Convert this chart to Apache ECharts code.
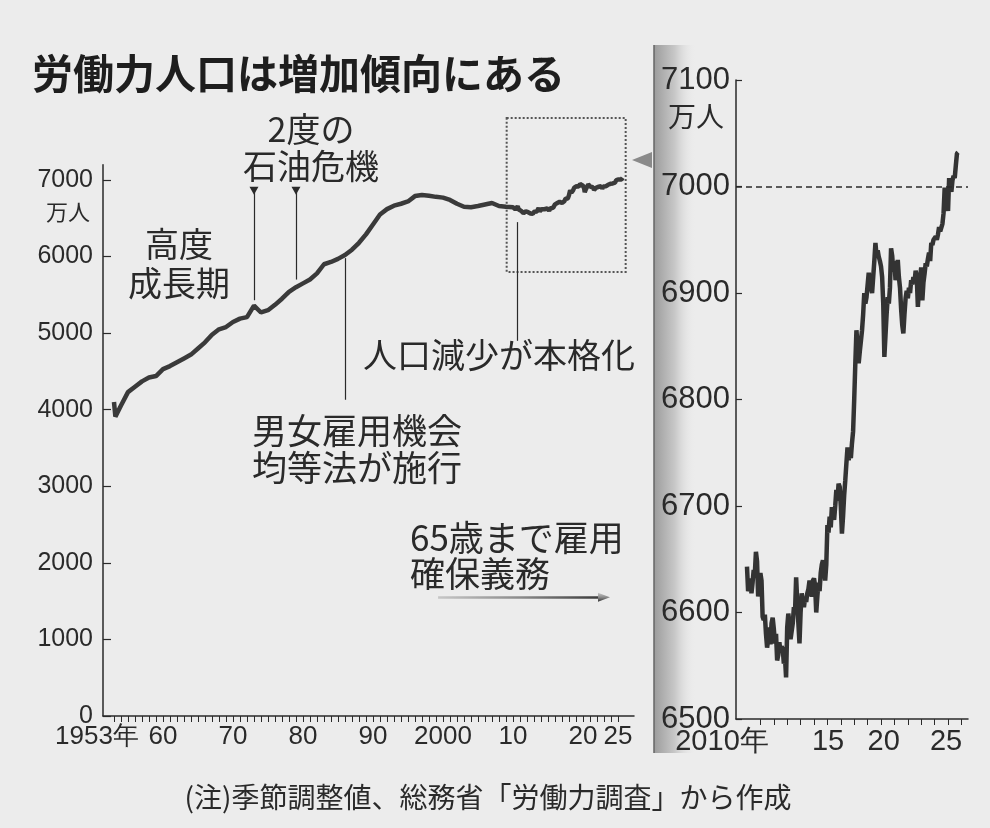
<!DOCTYPE html>
<html><head><meta charset="utf-8">
<script src="https://cdn.jsdelivr.net/npm/echarts@6/dist/echarts.min.js"></script>
<style>html,body{margin:0;padding:0;background:#ececec;}#c{width:990px;height:828px;}</style>
</head><body><div id="c"></div>
<script>
// ---- data (万人) ----
const leftYears = [1953.0,1953.2,1954,1955,1956,1957,1958,1959,1960,1961,1962,1963,1964,1965,1966,1967,1968,1969,1970,1971,1972,1973,1974,1975,1976,1977,1978,1979,1980,1981,1982,1983,1984,1985,1986,1987,1988,1989,1990,1991,1992,1993,1994,1995,1996,1997,1998,1999,2000,2001,2002,2003,2004,2005,2006,2007,2008,2009];
const leftValues = [4100,3910,4055,4230,4300,4370,4420,4440,4530,4570,4620,4670,4720,4800,4880,4980,5050,5080,5146,5190,5210,5360,5270,5300,5370,5450,5540,5600,5650,5700,5780,5900,5930,5970,6020,6090,6180,6290,6420,6550,6620,6665,6690,6720,6790,6805,6795,6780,6770,6740,6690,6650,6645,6660,6680,6700,6660,6650];
const monthlyStartYear = 2010;
const monthlyValues = [
 6643,6620,6625,6632,6618,6628,6640,6636,6657,6648,6615,6628, // 2010
 6637,6630,6596,6593,6598,6580,6567,6575,6586,6570,6590,6595, // 2011
 6585,6571,6580,6555,6560,6572,6563,6568,6566,6552,6558,6539, // 2012
 6586,6599,6590,6575,6574,6590,6605,6600,6633,6610,6590,6571, // 2013
 6600,6618,6612,6605,6614,6610,6618,6622,6630,6620,6615,6630, // 2014
 6632,6625,6600,6615,6628,6620,6637,6645,6649,6640,6630,6645, // 2015
 6682,6675,6690,6680,6699,6692,6687,6700,6715,6705,6721,6718, // 2016
 6700,6674,6690,6710,6724,6740,6755,6743,6750,6745,6759,6770, // 2017
 6800,6834,6865,6850,6834,6845,6855,6865,6880,6900,6890,6896, // 2018
 6896,6919,6912,6905,6900,6915,6930,6947,6935,6940,6934,6930, // 2019
 6925,6915,6890,6840,6860,6880,6896,6890,6905,6942,6935,6920, // 2020
 6930,6912,6920,6931,6915,6905,6885,6870,6862,6880,6895,6902, // 2021
 6895,6905,6900,6912,6908,6915,6910,6921,6915,6887,6905,6915, // 2022
 6924,6893,6910,6918,6928,6925,6932,6938,6930,6947,6945,6950, // 2023
 6949,6953,6950,6955,6962,6958,6959,6965,6975,6999,6985,6990, // 2024
 6977,7008,7000,6995,7006,7010,7008,7020,7031,7032             // 2025
];
const leftXTickYears = [];
for (let y = 1953; y <= 2025; y++) leftXTickYears.push(y);
const leftXLabelYears = [1953,1960,1970,1980,1990,2000,2010,2020,2025];
const rightXTickYears = [];
for (let y = 2011; y <= 2026; y++) rightXTickYears.push(y);
const rightXLabels = ['2010年','15','20','25'];
const leftYTicks = [0,1000,2000,3000,4000,5000,6000,7000];
const rightYTicks = [6500,6600,6700,6800,6900,7000,7100];
const refLine = 7000;
const events = [
  {year:1973, top:6860, bottom:5430, mark:true},
  {year:1979, top:6860, bottom:5700, mark:true},
  {year:1986, top:5980, bottom:4130, mark:false},
  {year:2010.6, top:6450, bottom:4900, mark:false}
];
const arrow65 = {from:1999.3, to:2023.0, value:1550};
const zoomBox = {x0:2009.1, x1:2026.1, y0:5800, y1:7810};

// ---- build ----
const monthly = monthlyValues.map((v,i)=>[monthlyStartYear + i/12, v]);
const leftData = leftYears.map((y,i)=>[y, leftValues[i]]).concat(monthly);

const NUM = '"Liberation Sans",Arial,sans-serif';
const JP = '"Noto Sans CJK JP","Noto Sans CJK SC",sans-serif';
const INK = '#2a2a2a';

const chart = echarts.init(document.getElementById('c'), null, {renderer:'canvas'});

const rightLabelPos = [2009.18, 2016.05, 2020.2, 2024.85];
const plain = v => String(v);

const option = {
  backgroundColor: '#ececec',
  animation: false,
  grid: [
    {left:103, top:164.7, width:531, height:551.3},
    {left:736, top:80, width:232, height:639},
    {left:103, top:65.2, width:531, height:650.8}
  ],
  xAxis: [
    {gridIndex:0, type:'value', min:1951.43, max:2027.29,
     axisLine:{show:true, lineStyle:{color:INK, width:1.5}},
     axisTick:{show:true, customValues:leftXTickYears, length:6, lineStyle:{color:INK, width:1}},
     axisLabel:{show:true, customValues:leftXLabelYears, showMinLabel:true, showMaxLabel:true, hideOverlap:false,
       margin:8, color:INK, fontSize:26, fontFamily:NUM,
       formatter:function(v){
         if (v===1953) return '{f|1953年}';
         if (v===2000) return '2000';
         return String(v%100).padStart(2,'0');
       },
       rich:{f:{padding:[0,34,0,0], fontSize:26, fontFamily:NUM, color:INK}}},
     splitLine:{show:false}},
    {gridIndex:1, type:'value', min:2009.18, max:2026.49,
     axisLine:{show:true, lineStyle:{color:INK, width:1.5}},
     axisTick:{show:true, customValues:rightXTickYears, length:6, lineStyle:{color:INK, width:1}},
     axisLabel:{show:true, customValues:rightLabelPos, showMinLabel:true, showMaxLabel:true, hideOverlap:false,
       margin:8, color:INK, fontSize:29, fontFamily:NUM,
       formatter:function(v){
         const i = rightLabelPos.indexOf(v);
         if (i===0) return '{f|' + rightXLabels[0] + '}';
         return rightXLabels[i];
       },
       rich:{f:{padding:[0,28,0,0], fontSize:29, fontFamily:NUM, color:INK}}},
     splitLine:{show:false}},
    {gridIndex:2, type:'value', min:1951.43, max:2027.29, show:false}
  ],
  yAxis: [
    {gridIndex:0, type:'value', min:0, max:7200,
     axisLine:{show:true, lineStyle:{color:INK, width:1.5}},
     axisTick:{show:true, inside:true, customValues:leftYTicks, length:8, lineStyle:{color:INK, width:1.2}},
     axisLabel:{show:true, customValues:leftYTicks, showMinLabel:true, showMaxLabel:true, margin:10, color:INK, fontSize:25, fontFamily:NUM, formatter:plain},
     splitLine:{show:false}},
    {gridIndex:1, type:'value', min:6500, max:7100,
     axisLine:{show:true, lineStyle:{color:INK, width:1.5}},
     axisTick:{show:true, inside:true, customValues:rightYTicks, length:6, lineStyle:{color:INK, width:1.2}},
     axisLabel:{show:true, customValues:rightYTicks, showMinLabel:true, showMaxLabel:true, margin:6, color:INK, fontSize:31, fontFamily:NUM, formatter:plain},
     splitLine:{show:false}},
    {gridIndex:2, type:'value', min:0, max:8500, show:false}
  ],
  series: [
    {type:'line', xAxisIndex:0, yAxisIndex:0, data:leftData, showSymbol:false,
     lineStyle:{color:'#3a3a3a', width:4.5}, z:3,
     markLine:{silent:true, symbol:['none','none'], label:{show:false},
       lineStyle:{color:INK, width:1.2, type:'solid'},
       data: events.map(e=>[{coord:[e.year, e.top]},{coord:[e.year, e.bottom]}]).concat([
         [{coord:[arrow65.from, arrow65.value],
           lineStyle:{width:2.5, color:new echarts.graphic.LinearGradient(0,0,1,0,[{offset:0,color:'#c8c8c8'},{offset:0.5,color:'#8a8a8a'},{offset:1,color:'#333'}])}},
          {coord:[arrow65.to, arrow65.value], symbol:'triangle', symbolSize:[9,12]}]
       ])},
     markPoint:{silent:true, symbol:'triangle', symbolRotate:180, symbolSize:[9,8],
       itemStyle:{color:INK}, label:{show:false},
       data: events.filter(e=>e.mark).map(e=>({coord:[e.year, e.top]}))}
    },
    {type:'line', xAxisIndex:1, yAxisIndex:1, data:monthly, showSymbol:false,
     lineStyle:{color:'#333', width:4.5}, z:3,
     markLine:{silent:true, symbol:['none','none'], label:{show:false},
       lineStyle:{color:INK, width:1.5, type:[6,4]},
       data:[{yAxis:refLine}]}
    },
    {type:'line', xAxisIndex:2, yAxisIndex:2, data:[[zoomBox.x0, zoomBox.y0]], showSymbol:false, silent:true,
     lineStyle:{opacity:0}, z:2,
     markArea:{silent:true, label:{show:false},
       itemStyle:{color:'rgba(0,0,0,0)', borderColor:'#555', borderWidth:2, borderType:'dotted'},
       data:[[{coord:[zoomBox.x0, zoomBox.y1]},{coord:[zoomBox.x1, zoomBox.y0]}]]}
    }
  ],
  graphic: [
    {type:'rect', shape:{x:654, y:45, width:42, height:708}, z:-1,
     style:{fill:new echarts.graphic.LinearGradient(0,0,1,0,[{offset:0,color:'#9c9c9c'},{offset:0.5,color:'#c8c8c8'},{offset:1,color:'rgba(236,236,236,0)'}])}},
    {type:'line', shape:{x1:654, y1:45, x2:654, y2:753}, style:{stroke:'#666', lineWidth:1.5}},
    {type:'polygon', shape:{points:[[632,160],[652,152],[652,168]]}, style:{fill:'#8a8a8a'}},
    {type:'text', style:{text:'労働力人口は増加傾向にある', x:32, y:73, fontSize:41, fontWeight:'bold', fontFamily:JP, fill:'#1e1e1e', textVerticalAlign:'middle'}},
    {type:'text', style:{text:'2度の\n石油危機', x:311, y:148, fontSize:34, lineHeight:37, fontFamily:JP, fill:INK, textAlign:'center', textVerticalAlign:'middle'}},
    {type:'text', style:{text:'高度\n成長期', x:179, y:264, fontSize:34, lineHeight:39, fontFamily:JP, fill:INK, textAlign:'center', textVerticalAlign:'middle'}},
    {type:'text', style:{text:'人口減少が本格化', x:363, y:355, fontSize:34, fontFamily:JP, fill:INK, textVerticalAlign:'middle'}},
    {type:'text', style:{text:'男女雇用機会\n均等法が施行', x:252, y:449, fontSize:35, lineHeight:37, fontFamily:JP, fill:INK, textVerticalAlign:'middle'}},
    {type:'text', style:{text:'65歳まで雇用\n確保義務', x:410, y:556, fontSize:35, lineHeight:36, fontFamily:JP, fill:INK, textVerticalAlign:'middle'}},
    {type:'text', style:{text:'万人', x:68, y:212, fontSize:22, fontFamily:JP, fill:INK, textAlign:'center', textVerticalAlign:'middle'}},
    {type:'text', style:{text:'万人', x:696, y:116, fontSize:28, fontFamily:JP, fill:INK, textAlign:'center', textVerticalAlign:'middle'}},
    {type:'text', style:{text:'(注)季節調整値、総務省「労働力調査」から作成', x:488, y:797, fontSize:28, fontFamily:JP, fill:INK, textAlign:'center', textVerticalAlign:'middle'}}
  ]
};
chart.setOption(option);
</script></body></html>
